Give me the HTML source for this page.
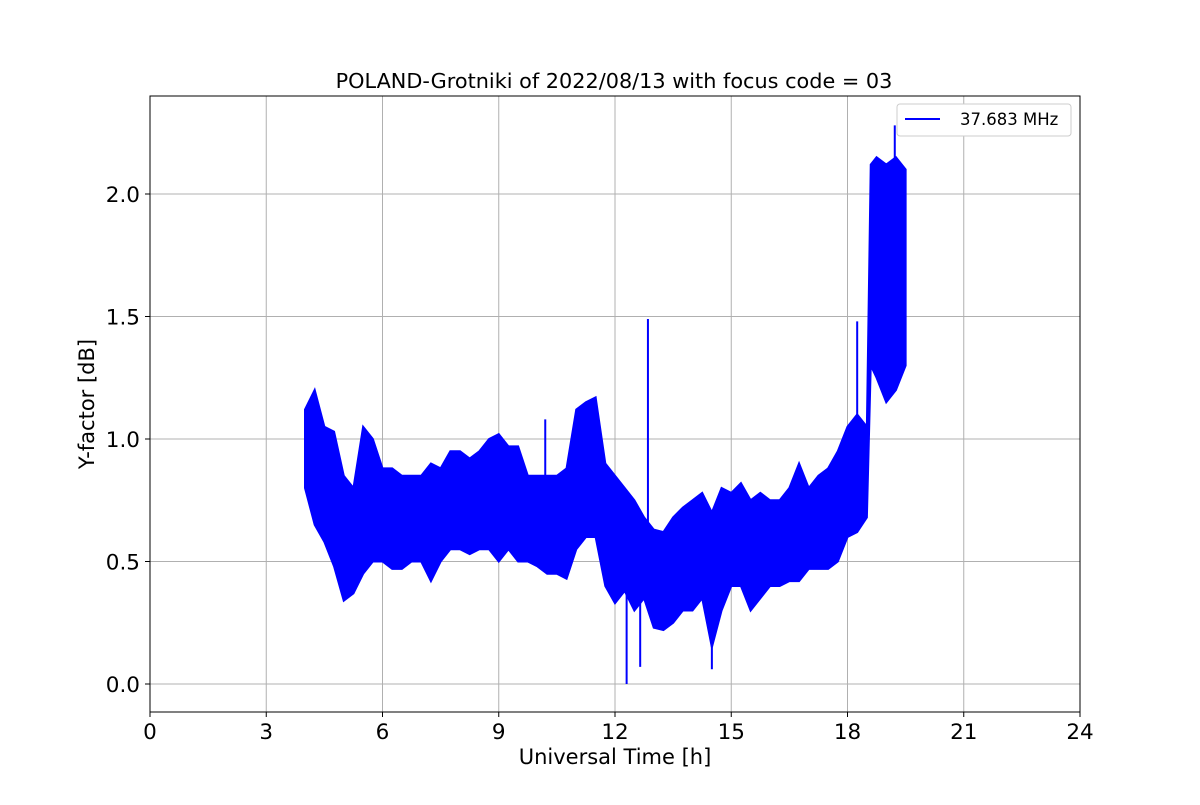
<!DOCTYPE html>
<html><head><meta charset="utf-8"><style>
body{margin:0;background:#fff;font-family:"Liberation Sans","DejaVu Sans",sans-serif}
svg text{font-family:"DejaVu Sans","Liberation Sans",sans-serif}
</style></head><body>
<svg id="chart" width="1200" height="800">
<text x="614" y="88" text-anchor="middle" font-size="20.8">POLAND-Grotniki of 2022/08/13 with focus code = 03</text>
<g id="grid"></g><g id="series"></g><g id="axes"></g>
<rect x="150" y="96" width="930" height="616" fill="none" stroke="#000" stroke-width="1"/>
<text x="615" y="764" text-anchor="middle" font-size="21">Universal Time [h]</text>
<text transform="translate(94,404) rotate(-90)" text-anchor="middle" font-size="21">Y-factor [dB]</text>
<g>
<rect x="897" y="104" width="174" height="32" fill="#fff" stroke="#ccc" rx="3"/>
<line x1="905" y1="119" x2="940" y2="119" stroke="#0000ff" stroke-width="2"/>
<text x="960" y="125" font-size="16.5">37.683 MHz</text>
</g>
</svg>
<script>
const xTicks=[0,3,6,9,12,15,18,21,24];
const yTicks=[0,0.5,1.0,1.5,2.0];
const yTickLabels=["0.0","0.5","1.0","1.5","2.0"];
const times=[4.0,4.25,4.5,4.75,5.0,5.25,5.5,5.75,6.0,6.25,6.5,6.75,7.0,7.25,7.5,7.75,8.0,8.25,8.5,8.75,9.0,9.25,9.5,9.75,10.0,10.25,10.5,10.75,11.0,11.25,11.5,11.75,12.0,12.25,12.5,12.75,13.0,13.25,13.5,13.75,14.0,14.25,14.5,14.75,15.0,15.25,15.5,15.75,16.0,16.25,16.5,16.75,17.0,17.25,17.5,17.75,18.0,18.25,18.5,18.6,18.75,19.0,19.25,19.5];
const lows=[0.8,0.65,0.58,0.48,0.34,0.37,0.45,0.5,0.5,0.47,0.47,0.5,0.5,0.42,0.5,0.55,0.55,0.53,0.55,0.55,0.5,0.55,0.5,0.5,0.48,0.45,0.45,0.43,0.55,0.6,0.6,0.4,0.33,0.38,0.3,0.35,0.23,0.22,0.25,0.3,0.3,0.35,0.15,0.3,0.4,0.4,0.3,0.35,0.4,0.4,0.42,0.42,0.47,0.47,0.47,0.5,0.6,0.62,0.68,1.3,1.25,1.15,1.2,1.3];
const highs=[1.12,1.2,1.05,1.03,0.85,0.8,1.05,1.0,0.88,0.88,0.85,0.85,0.85,0.9,0.88,0.95,0.95,0.92,0.95,1.0,1.02,0.97,0.97,0.85,0.85,0.85,0.85,0.88,1.12,1.15,1.17,0.9,0.85,0.8,0.75,0.68,0.63,0.62,0.68,0.72,0.75,0.78,0.7,0.8,0.78,0.82,0.75,0.78,0.75,0.75,0.8,0.9,0.8,0.85,0.88,0.95,1.05,1.1,1.05,2.12,2.15,2.12,2.15,2.1];
const spikeTimes=[10.2,12.3,12.65,12.85,14.5,18.25,19.22];
const spikeLows=[0.6,0.0,0.07,0.5,0.06,0.8,1.5];
const spikeHighs=[1.08,0.6,0.6,1.49,0.6,1.48,2.28];
const X=t=>150+t*(930/24), Y=v=>684-v*245;
const ns="http://www.w3.org/2000/svg";
function mk(tag,attrs,parent){const e=document.createElementNS(ns,tag);for(const k in attrs)e.setAttribute(k,attrs[k]);parent.appendChild(e);return e;}
const grid=document.getElementById('grid'),axes=document.getElementById('axes'),series=document.getElementById('series');
xTicks.forEach(t=>{
 const g=mk('line',{x1:X(t),x2:X(t),y1:96,y2:712,stroke:'#b0b0b0','stroke-width':1},grid);
 
 
 mk('line',{x1:X(t),x2:X(t),y1:712,y2:717,stroke:'#000'},axes);
 const l=mk('text',{x:X(t),y:739,'text-anchor':'middle','font-size':21.5},axes);
 l.textContent=t;
 
 
});
yTicks.forEach((v,i)=>{
 const g=mk('line',{x1:150,x2:1080,y1:Y(v),y2:Y(v),stroke:'#b0b0b0','stroke-width':1},grid);
 
 
 mk('line',{x1:145,x2:150,y1:Y(v),y2:Y(v),stroke:'#000'},axes);
 const l=mk('text',{x:140,y:Y(v)+8,'text-anchor':'end','font-size':21.5},axes);
 l.textContent=yTickLabels[i];
 
 
});
let pts=times.map((t,i)=>X(t)+','+Y(highs[i]));
for(let i=times.length-1;i>=0;i--)pts.push(X(times[i])+','+Y(lows[i]));
const band=mk('polygon',{points:pts.join(' '),fill:'#0000ff',stroke:'#0000ff','stroke-width':2},series);


spikeTimes.forEach((t,i)=>{
 const s=mk('line',{x1:X(t),x2:X(t),y1:Y(spikeLows[i]),y2:Y(spikeHighs[i]),stroke:'#0000ff','stroke-width':2},series);
 
 
});
</script>
</body></html>
